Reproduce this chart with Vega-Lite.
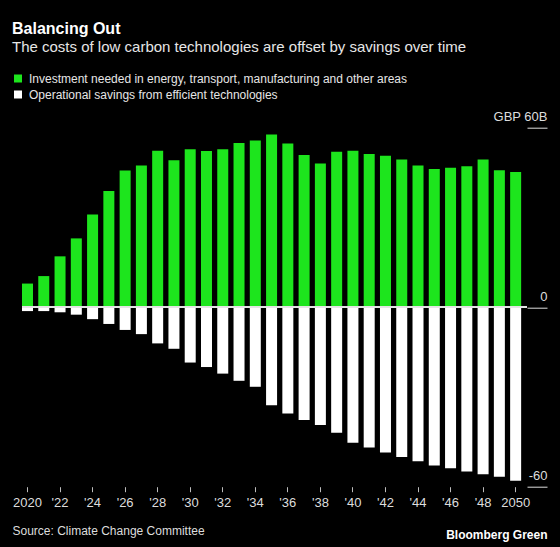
{
  "$schema": "https://vega.github.io/schema/vega-lite/v6.json",
  "width": 505,
  "height": 359,
  "autosize": {"type": "none"},
  "padding": {"left": 22, "top": 127.7, "right": 33, "bottom": 60.3},
  "background": "#000000",
  "config": {
    "font": "Liberation Sans",
    "view": {"stroke": null}
  },
  "title": {
    "text": "Balancing Out",
    "anchor": "start",
    "dx": 0,
    "offset": 2.5,
    "font": "Liberation Sans",
    "fontSize": 16,
    "fontWeight": "bold",
    "color": "#ffffff"
  },
  "data": {
    "values": [
      {"year": 2020, "series": "Investment needed in energy, transport, manufacturing and other areas", "value": 7.9},
      {"year": 2021, "series": "Investment needed in energy, transport, manufacturing and other areas", "value": 10.4},
      {"year": 2022, "series": "Investment needed in energy, transport, manufacturing and other areas", "value": 17.0},
      {"year": 2023, "series": "Investment needed in energy, transport, manufacturing and other areas", "value": 23.0},
      {"year": 2024, "series": "Investment needed in energy, transport, manufacturing and other areas", "value": 31.0},
      {"year": 2025, "series": "Investment needed in energy, transport, manufacturing and other areas", "value": 38.8},
      {"year": 2026, "series": "Investment needed in energy, transport, manufacturing and other areas", "value": 45.7},
      {"year": 2027, "series": "Investment needed in energy, transport, manufacturing and other areas", "value": 47.4},
      {"year": 2028, "series": "Investment needed in energy, transport, manufacturing and other areas", "value": 52.3},
      {"year": 2029, "series": "Investment needed in energy, transport, manufacturing and other areas", "value": 49.1},
      {"year": 2030, "series": "Investment needed in energy, transport, manufacturing and other areas", "value": 52.8},
      {"year": 2031, "series": "Investment needed in energy, transport, manufacturing and other areas", "value": 52.2},
      {"year": 2032, "series": "Investment needed in energy, transport, manufacturing and other areas", "value": 52.8},
      {"year": 2033, "series": "Investment needed in energy, transport, manufacturing and other areas", "value": 54.9},
      {"year": 2034, "series": "Investment needed in energy, transport, manufacturing and other areas", "value": 55.7},
      {"year": 2035, "series": "Investment needed in energy, transport, manufacturing and other areas", "value": 57.7},
      {"year": 2036, "series": "Investment needed in energy, transport, manufacturing and other areas", "value": 54.7},
      {"year": 2037, "series": "Investment needed in energy, transport, manufacturing and other areas", "value": 50.9},
      {"year": 2038, "series": "Investment needed in energy, transport, manufacturing and other areas", "value": 48.0},
      {"year": 2039, "series": "Investment needed in energy, transport, manufacturing and other areas", "value": 52.0},
      {"year": 2040, "series": "Investment needed in energy, transport, manufacturing and other areas", "value": 52.3},
      {"year": 2041, "series": "Investment needed in energy, transport, manufacturing and other areas", "value": 51.2},
      {"year": 2042, "series": "Investment needed in energy, transport, manufacturing and other areas", "value": 50.6},
      {"year": 2043, "series": "Investment needed in energy, transport, manufacturing and other areas", "value": 49.4},
      {"year": 2044, "series": "Investment needed in energy, transport, manufacturing and other areas", "value": 47.4},
      {"year": 2045, "series": "Investment needed in energy, transport, manufacturing and other areas", "value": 46.2},
      {"year": 2046, "series": "Investment needed in energy, transport, manufacturing and other areas", "value": 46.6},
      {"year": 2047, "series": "Investment needed in energy, transport, manufacturing and other areas", "value": 47.1},
      {"year": 2048, "series": "Investment needed in energy, transport, manufacturing and other areas", "value": 49.4},
      {"year": 2049, "series": "Investment needed in energy, transport, manufacturing and other areas", "value": 45.8},
      {"year": 2050, "series": "Investment needed in energy, transport, manufacturing and other areas", "value": 45.2},
      {"year": 2020, "series": "Operational savings from efficient technologies", "value": -1.3},
      {"year": 2021, "series": "Operational savings from efficient technologies", "value": -1.3},
      {"year": 2022, "series": "Operational savings from efficient technologies", "value": -1.7},
      {"year": 2023, "series": "Operational savings from efficient technologies", "value": -2.5},
      {"year": 2024, "series": "Operational savings from efficient technologies", "value": -4.0},
      {"year": 2025, "series": "Operational savings from efficient technologies", "value": -5.6},
      {"year": 2026, "series": "Operational savings from efficient technologies", "value": -7.6},
      {"year": 2027, "series": "Operational savings from efficient technologies", "value": -9.0},
      {"year": 2028, "series": "Operational savings from efficient technologies", "value": -12.1},
      {"year": 2029, "series": "Operational savings from efficient technologies", "value": -13.9},
      {"year": 2030, "series": "Operational savings from efficient technologies", "value": -18.5},
      {"year": 2031, "series": "Operational savings from efficient technologies", "value": -20.0},
      {"year": 2032, "series": "Operational savings from efficient technologies", "value": -22.2},
      {"year": 2033, "series": "Operational savings from efficient technologies", "value": -24.6},
      {"year": 2034, "series": "Operational savings from efficient technologies", "value": -26.6},
      {"year": 2035, "series": "Operational savings from efficient technologies", "value": -32.8},
      {"year": 2036, "series": "Operational savings from efficient technologies", "value": -35.5},
      {"year": 2037, "series": "Operational savings from efficient technologies", "value": -37.7},
      {"year": 2038, "series": "Operational savings from efficient technologies", "value": -39.4},
      {"year": 2039, "series": "Operational savings from efficient technologies", "value": -42.0},
      {"year": 2040, "series": "Operational savings from efficient technologies", "value": -45.3},
      {"year": 2041, "series": "Operational savings from efficient technologies", "value": -46.9},
      {"year": 2042, "series": "Operational savings from efficient technologies", "value": -48.6},
      {"year": 2043, "series": "Operational savings from efficient technologies", "value": -50.1},
      {"year": 2044, "series": "Operational savings from efficient technologies", "value": -51.5},
      {"year": 2045, "series": "Operational savings from efficient technologies", "value": -52.9},
      {"year": 2046, "series": "Operational savings from efficient technologies", "value": -53.8},
      {"year": 2047, "series": "Operational savings from efficient technologies", "value": -54.9},
      {"year": 2048, "series": "Operational savings from efficient technologies", "value": -55.8},
      {"year": 2049, "series": "Operational savings from efficient technologies", "value": -56.7},
      {"year": 2050, "series": "Operational savings from efficient technologies", "value": -58.0}
    ]
  },
  "layer": [
    {
      "mark": {"type": "bar"},
      "encoding": {
        "x": {
          "field": "year",
          "type": "ordinal",
          "scale": {"paddingInner": 0.324, "paddingOuter": 0.18, "align": 0},
          "axis": {
            "values": [2020, 2022, 2024, 2026, 2028, 2030, 2032, 2034, 2036, 2038, 2040, 2042, 2044, 2046, 2048, 2050],
            "labelExpr": "datum.value == 2020 || datum.value == 2050 ? datum.label : \"'\" + slice(datum.label, 2)",
            "labelAngle": 0,
            "domain": false,
            "grid": false,
            "tickColor": "#bbbbbb",
            "tickSize": 5,
            "labelColor": "#dddddd",
            "labelFont": "Liberation Sans",
            "labelFontSize": 13,
            "labelPadding": 5,
            "title": "Source: Climate Change Committee",
            "titleX": -10,
            "titleY": 47.8,
            "titleAlign": "left",
            "titleAnchor": "start",
            "titleBaseline": "alphabetic",
            "titleFont": "Liberation Sans",
            "titleFontSize": 12,
            "titleFontWeight": "normal",
            "titleColor": "#dddddd"
          }
        },
        "y": {
          "field": "value",
          "type": "quantitative",
          "stack": null,
          "scale": {"domain": [-60, 60], "nice": false},
          "axis": {
            "orient": "right",
            "values": [-60, 0, 60],
            "labelExpr": "datum.value == 60 ? 'GBP 60B' : toString(datum.value)",
            "domain": false,
            "grid": false,
            "tickSize": 20,
            "tickColor": "#dddddd",
            "labelAlign": "right",
            "labelBaseline": "middle",
            "labelPadding": 0,
            "labelOffset": -11,
            "labelColor": "#dddddd",
            "labelFont": "Liberation Sans",
            "labelFontSize": 13,
            "title": "Bloomberg Green",
            "titleAngle": 0,
            "titleX": 20,
            "titleY": 410.8,
            "titleAlign": "right",
            "titleBaseline": "alphabetic",
            "titleFont": "Liberation Sans",
            "titleFontSize": 12,
            "titleFontWeight": "bold",
            "titleColor": "#ffffff"
          }
        },
        "color": {
          "field": "series",
          "type": "nominal",
          "scale": {
            "domain": ["Investment needed in energy, transport, manufacturing and other areas", "Operational savings from efficient technologies"],
            "range": ["#1de51d", "#ffffff"]
          },
          "legend": {
            "orient": "none",
            "legendX": -10,
            "legendY": -87.85,
            "title": "The costs of low carbon technologies are offset by savings over time",
            "titleFont": "Liberation Sans",
            "titleFontSize": 15,
            "titleFontWeight": "normal",
            "titleColor": "#e6e6e6",
            "titleLimit": 600,
            "titleAnchor": "start",
            "titleAlign": "left",
            "titleBaseline": "top",
            "titlePadding": 17.65,
            "padding": 0,
            "symbolType": "square",
            "symbolSize": 64,
            "symbolStrokeWidth": 0,
            "symbolOpacity": 1,
            "labelFont": "Liberation Sans",
            "labelFontSize": 12,
            "labelColor": "#e6e6e6",
            "labelOffset": 5,
            "labelLimit": 600,
            "rowPadding": 4
          }
        }
      }
    },
    {
      "mark": {"type": "rule", "color": "#e6e6e6", "strokeWidth": 1},
      "encoding": {"y": {"datum": 0}}
    }
  ]
}
